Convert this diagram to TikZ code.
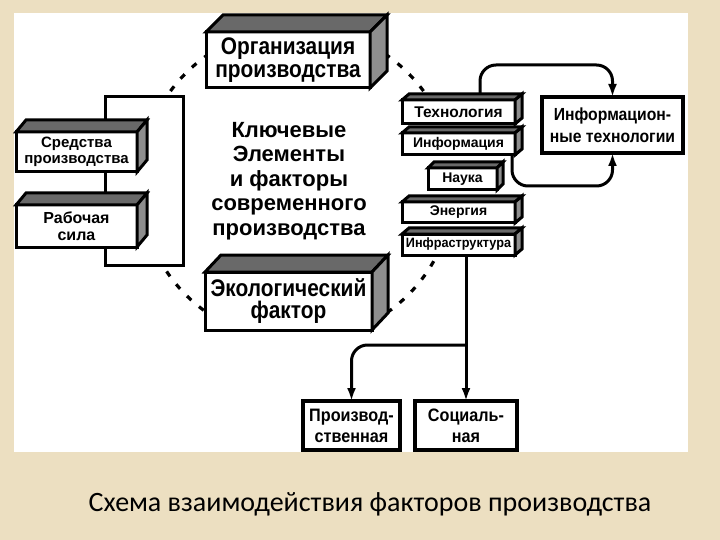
\documentclass[tikz,border=0pt]{standalone}
\usepackage{fontspec}
\setmainfont{Liberation Sans}
\newfontfamily\capfont{Carlito}
\newfontfamily\narrowf{Liberation Sans}[FakeStretch=0.87]
\newfontfamily\narrowh{Liberation Sans}[FakeStretch=0.9]
\newfontfamily\narrowg{Liberation Sans}[FakeStretch=0.94]
\usetikzlibrary{arrows.meta}

\definecolor{parch}{RGB}{236,223,193}
\definecolor{topg}{RGB}{105,105,105}
\definecolor{sideg}{RGB}{142,142,142}

\tikzset{
  front/.style={draw, line width=3pt, fill=white, inner sep=0pt, outer sep=0pt, align=center},
  flatbox/.style={draw, line width=3.5pt, fill=white, inner sep=0pt, outer sep=0pt, align=center},
  arr/.style={line width=3pt, -{Latex[length=13pt,width=9pt]}},
  dasharc/.style={line width=3.2pt, dash pattern=on 6pt off 10pt},
}

\newcommand\cubefaces[3]{%
  \filldraw[fill=topg, line width=3pt] (#1.north west) -- ([shift={(#2,-#3)}]#1.north west) -- ([shift={(#2,-#3)}]#1.north east) -- (#1.north east) -- cycle;
  \filldraw[fill=sideg, line width=3pt] (#1.north east) -- ([shift={(#2,-#3)}]#1.north east) -- ([shift={(#2,-#3)}]#1.south east) -- (#1.south east) -- cycle;
}

\begin{document}
\begin{tikzpicture}[x=1pt,y=-1pt]
\useasboundingbox (0,0) rectangle (720,540);
\fill[parch] (0,0) rectangle (720,540);
\fill[white] (14,13) rectangle (688,452);

% dashed arcs of the ring
\def\cx{297}\def\cy{184}\def\rr{157}
\draw[dasharc] plot[domain=236:212, samples=40] ({\cx+\rr*cos(\x)},{\cy+\rr*sin(\x)});
\draw[dasharc] plot[domain=-56:-32, samples=40] ({\cx+\rr*cos(\x)},{\cy+\rr*sin(\x)});
\draw[dasharc] plot[domain=152:124, samples=40] ({\cx+\rr*cos(\x)},{\cy+\rr*sin(\x)});
\draw[dasharc] plot[domain=55:26, samples=40] ({\cx+\rr*cos(\x)},{\cy+\rr*sin(\x)});

% left frame
\node[draw, line width=3pt, fill=white, minimum width=78, minimum height=168, outer sep=0pt, inner sep=0pt] (frame) at (144,181) {};

% 3D boxes
\node[front, minimum width=164, minimum height=56, font={\narrowf\bfseries\fontsize{24}{22.5}\selectfont}] (org) at (288,60) {Организация\\производства};
\cubefaces{org}{17}{17}

\node[front, minimum width=121, minimum height=40, font={\bfseries\fontsize{15}{16.5}\selectfont}] (sred) at (76.5,152) {Средства\\производства};
\cubefaces{sred}{10}{12}

\node[front, minimum width=121, minimum height=42, font={\bfseries\fontsize{16}{16.5}\selectfont}] (rab) at (76.5,226) {Рабочая\\сила};
\cubefaces{rab}{10}{12}

\node[front, minimum width=167, minimum height=58, font={\narrowf\bfseries\fontsize{24}{22.5}\selectfont}] (ekol) at (288.5,301) {Экологический\\фактор};
\cubefaces{ekol}{16}{17}

\node[front, minimum width=113, minimum height=24, font={\bfseries\fontsize{15.5}{17}\selectfont}] (tech) at (458.5,112) {Технология};
\cubefaces{tech}{7}{6}
\node[front, minimum width=113, minimum height=22, font={\bfseries\fontsize{14}{16}\selectfont}] (info) at (458.5,144) {Информация};
\cubefaces{info}{7}{6}
\node[front, minimum width=69, minimum height=22, font={\bfseries\fontsize{14}{16}\selectfont}] (nauka) at (462.5,179) {Наука};
\cubefaces{nauka}{6}{6}
\node[front, minimum width=113, minimum height=21, font={\bfseries\fontsize{14}{16}\selectfont}] (energ) at (458.5,212.5) {Энергия};
\cubefaces{energ}{7}{6}
\node[front, minimum width=113, minimum height=21, font={\narrowg\bfseries\fontsize{13.5}{16}\selectfont}] (infra) at (458.5,244.5) {Инфраструктура};
\cubefaces{infra}{7}{6}

% centre text
\node[align=center, font={\bfseries\fontsize{22}{24.5}\selectfont}] (keytxt) at (289,181) {Ключевые\\Элементы\\и факторы\\современного\\производства};

% flat boxes
\node[flatbox, minimum width=141, minimum height=56, font={\narrowh\bfseries\fontsize{17.5}{22}\selectfont}] (it) at (612.5,125) {Информацион-\\ные технологии};
\node[flatbox, minimum width=97, minimum height=49, font={\narrowh\bfseries\fontsize{18}{21}\selectfont}] (proizv) at (351.5,425.5) {Производ-\\ственная};
\node[flatbox, minimum width=102, minimum height=49, font={\narrowh\bfseries\fontsize{18}{21}\selectfont}] (social) at (466,425.5) {Социаль-\\ная};

% connectors
\coordinate (t1) at ([shift={(21.5,-6)}]tech.north);
\draw[arr, rounded corners=16] (t1) |- ([yshift=32]it.north) -- (it.north);
\coordinate (i1) at ([xshift=-3]info.south east);
\draw[arr, rounded corners=16] (i1) |- ([yshift=-33]it.south) -- (it.south);
\draw[arr] (infra.south -| social.north) -- (social.north);
\coordinate (br) at ([yshift=56]social.north);
\draw[arr, rounded corners=16] (br) -| (proizv.north);

% caption
\node[font={\capfont\fontsize{28}{32}\selectfont}, anchor=base] (cap) at (370,511) {Схема взаимодействия факторов производства};
\end{tikzpicture}
\end{document}
